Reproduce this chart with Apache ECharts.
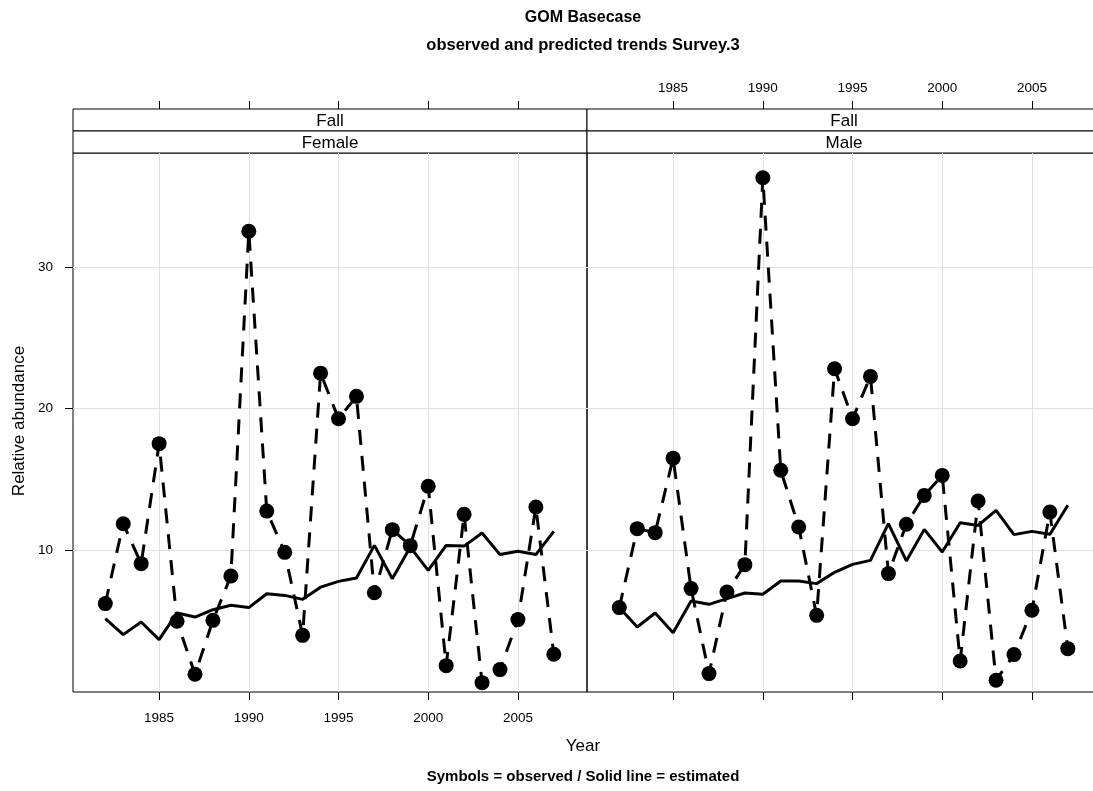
<!DOCTYPE html>
<html>
<head>
<meta charset="utf-8">
<title>GOM Basecase</title>
<script src="https://cdn.jsdelivr.net/npm/echarts@6/dist/echarts.min.js"></script>
<style>
html, body { margin: 0; padding: 0; background: #fff; overflow: hidden; }
/* canvas a bit wider than the window: the right panel runs off the edge like in the original */
#chart { width: 1110px; height: 791px; }
</style>
</head>
<body>
<div id="chart"></div>
<script>
'use strict';
// data
var YEARS = [1982, 1983, 1984, 1985, 1986, 1987, 1988, 1989, 1990, 1991, 1992, 1993, 1994,
    1995, 1996, 1997, 1998, 1999, 2000, 2001, 2002, 2003, 2004, 2005, 2006, 2007];
var FEMALE_OBS = [6.24, 11.88, 9.06, 17.53, 4.99, 1.25, 5.06, 8.19, 32.53, 12.77, 9.86, 4.0, 22.51,
    19.29, 20.87, 7.01, 11.46, 10.33, 14.52, 1.86, 12.54, 0.66, 1.58, 5.11, 13.06, 2.66];
var FEMALE_EST = [5.18, 4.05, 4.94, 3.70, 5.58, 5.29, 5.81, 6.12, 5.96, 6.94, 6.82, 6.54, 7.40,
    7.81, 8.05, 10.35, 8.0, 10.23, 8.59, 10.35, 10.3, 11.22, 9.70, 9.93, 9.70, 11.34];
var MALE_OBS = [5.96, 11.53, 11.25, 16.51, 7.30, 1.30, 7.06, 8.99, 36.30, 15.65, 11.65, 5.41, 22.82,
    19.29, 22.28, 8.36, 11.84, 13.88, 15.29, 2.19, 13.48, 0.83, 2.64, 5.77, 12.70, 3.06];
var MALE_EST = [5.96, 4.59, 5.58, 4.19, 6.42, 6.19, 6.59, 6.99, 6.90, 7.83, 7.83, 7.65, 8.45,
    9.01, 9.29, 11.88, 9.25, 11.48, 9.88, 11.95, 11.76, 12.82, 11.11, 11.34, 11.13, 13.18];
var X_TICKS = [1985, 1990, 1995, 2000, 2005];
var Y_TICKS = [10, 20, 30];
var SEASON = 'Fall';
var PANELS = ['Female', 'Male'];

var FONT = '"Liberation Sans", Arial, sans-serif';
var PANEL_LEFT = [73, 587];
var PANEL_W = 514;
var PANEL_TOP = 153;
var PANEL_H = 539;
var STRIP_TOP = 109;
var STRIP_H = 22;

function pairs(vals) {
    return YEARS.map(function (y, i) { return [y, vals[i]]; });
}

function plain(v) {
    return String(v);
}

function xAxisFor(idx, pos, showLabel) {
    return {
        type: 'value',
        gridIndex: idx,
        position: pos,
        offset: pos === 'top' ? PANEL_TOP - STRIP_TOP : 0,
        min: 1980.2,
        max: 2008.85,
        axisLine: { show: false },
        axisTick: { show: true, length: 8, customValues: X_TICKS, lineStyle: { color: '#000' } },
        axisLabel: {
            show: showLabel, customValues: X_TICKS, margin: pos === 'top' ? 14 : 19,
            formatter: plain, color: '#000', fontSize: 13.5, fontFamily: FONT
        },
        splitLine: { show: pos === 'bottom', lineStyle: { color: '#e0e0e0', width: 1 } }
    };
}

function yAxisFor(idx, pos, showLabel) {
    return {
        type: 'value',
        gridIndex: idx,
        position: pos,
        min: 0,
        max: 38.05,
        axisLine: { show: false },
        axisTick: { show: true, length: 8, customValues: Y_TICKS, lineStyle: { color: '#000' } },
        axisLabel: {
            show: showLabel, customValues: Y_TICKS, margin: 20,
            formatter: plain, color: '#000', fontSize: 13.5, fontFamily: FONT
        },
        splitLine: { show: true, lineStyle: { color: '#e0e0e0', width: 1 } }
    };
}

function obsSeries(idx, vals) {
    return {
        type: 'line',
        xAxisIndex: idx * 2,
        yAxisIndex: idx,
        data: pairs(vals),
        symbol: 'circle',
        symbolSize: 15,
        itemStyle: { color: '#000' },
        lineStyle: { color: '#000', width: 3, type: [15, 11] },
        animation: false,
        z: 3
    };
}

function estSeries(idx, vals) {
    return {
        type: 'line',
        xAxisIndex: idx * 2,
        yAxisIndex: idx,
        data: pairs(vals),
        showSymbol: false,
        symbol: 'none',
        lineStyle: { color: '#000', width: 3 },
        animation: false,
        z: 2
    };
}

// strips above each panel
var graphics = [];
PANELS.forEach(function (name, i) {
    [SEASON, name].forEach(function (txt, r) {
        graphics.push({
            type: 'rect',
            shape: { x: PANEL_LEFT[i], y: STRIP_TOP + r * STRIP_H, width: PANEL_W, height: STRIP_H },
            style: { fill: '#fff', stroke: '#000', lineWidth: 1 }
        });
        graphics.push({
            type: 'text',
            x: PANEL_LEFT[i] + PANEL_W / 2,
            y: STRIP_TOP + r * STRIP_H + STRIP_H / 2 + 1,
            style: { text: txt, fill: '#000', font: '17px ' + FONT, textAlign: 'center', textVerticalAlign: 'middle' }
        });
    });
});
// titles
graphics.push({
    type: 'text', x: 583, y: 18,
    style: { text: 'GOM Basecase', fill: '#000', font: 'bold 16px ' + FONT, textAlign: 'center', textVerticalAlign: 'middle' }
});
graphics.push({
    type: 'text', x: 583, y: 45,
    style: { text: 'observed and predicted trends Survey.3', fill: '#000', font: 'bold 16.5px ' + FONT, textAlign: 'center', textVerticalAlign: 'middle' }
});
graphics.push({
    type: 'text', x: 583, y: 746,
    style: { text: 'Year', fill: '#000', font: '17px ' + FONT, textAlign: 'center', textVerticalAlign: 'middle' }
});
graphics.push({
    type: 'text', x: 583, y: 777,
    style: { text: 'Symbols = observed / Solid line = estimated', fill: '#000', font: 'bold 15px ' + FONT, textAlign: 'center', textVerticalAlign: 'middle' }
});
graphics.push({
    type: 'text', x: 19, y: 421, rotation: Math.PI / 2,
    style: { text: 'Relative abundance', fill: '#000', font: '17px ' + FONT, textAlign: 'center', textVerticalAlign: 'middle' }
});

var chart = echarts.init(document.getElementById('chart'));
var option = {
    backgroundColor: '#fff',
    animation: false,
    grid: PANELS.map(function (p, i) {
        return {
            left: PANEL_LEFT[i], top: PANEL_TOP, width: PANEL_W, height: PANEL_H,
            show: true, borderColor: '#000', borderWidth: 1, backgroundColor: 'transparent'
        };
    }),
    xAxis: [
        xAxisFor(0, 'bottom', true),
        xAxisFor(0, 'top', false),
        xAxisFor(1, 'bottom', false),
        xAxisFor(1, 'top', true)
    ],
    yAxis: [
        yAxisFor(0, 'left', true),
        yAxisFor(1, 'right', false)
    ],
    series: [
        estSeries(0, FEMALE_EST),
        obsSeries(0, FEMALE_OBS),
        estSeries(1, MALE_EST),
        obsSeries(1, MALE_OBS)
    ],
    graphic: graphics
};
chart.setOption(option);
</script>
</body>
</html>
